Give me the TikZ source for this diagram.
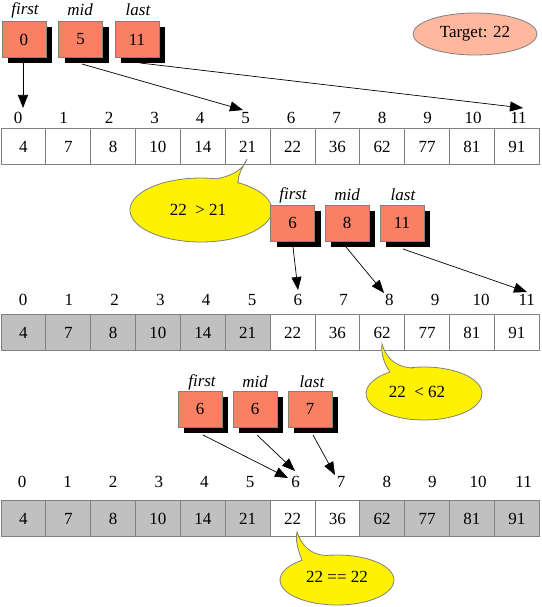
\documentclass[tikz,border=0pt]{standalone}
\usepackage{fontspec}
\setmainfont{Liberation Serif}
\usetikzlibrary{arrows.meta,shadows,shapes.geometric}
\definecolor{boxfill}{RGB}{250,128,100}
\definecolor{edgegray}{RGB}{128,128,128}
\definecolor{cellgray}{RGB}{192,192,192}
\definecolor{targetfill}{RGB}{255,184,158}
\begin{document}
\begin{tikzpicture}[x=1pt,y=-1pt, font=\fontsize{17}{20}\selectfont,
 ptr/.style={draw=edgegray, fill=boxfill, minimum width=44pt, minimum height=36pt, inner sep=0pt, line width=0.8pt,
   drop shadow={shadow xshift=6pt, shadow yshift=-6pt, opacity=1, fill=black}},
 ptrlbl/.style={font=\fontsize{17}{20}\selectfont\itshape, inner sep=0pt},
 cell/.style={draw=edgegray, fill=white, minimum width=44.85pt, minimum height=36pt, inner sep=0pt, line width=0.8pt},
 gcell/.style={cell, fill=cellgray},
 idx/.style={inner sep=0pt},
 arr/.style={-{Triangle[length=13pt,width=10pt]}, line width=0.7pt},
 bubble/.style={draw=edgegray, fill=yellow, line width=0.8pt}]
\useasboundingbox (0,0) rectangle (541,607);

% target
\node[ellipse, draw=edgegray, fill=targetfill, minimum width=124pt, minimum height=42pt, inner sep=0pt, line width=0.8pt] (target) at (475,34) {Target: 22};

% ---------- row 1 ----------
\foreach \v [count=\i from 0] in {4,7,8,10,14,21,22,36,62,77,81,91} {
  \node[cell] (r1c\i) at ({23.4+44.85*\i},146.5) {\v};
  \node[idx] (r1i\i) at ({18+45.5*\i},118) {\i};
}
% bubble 1
\path[bubble] (201,210) ++(-58.6:71 and 32) arc[start angle=-58.6, end angle=283, x radius=71, y radius=32]
  .. controls (235,175) and (244,168) .. (247,159)
  .. controls (242,168) and (238,175) .. (238,182.7) -- cycle;
\node (b1) at (198,210) {22\ \ > 21};

\node[ptr] (f1) at (24,39.5) {0};
\node[ptr] (m1) at (80.5,39.5) {5};
\node[ptr] (l1) at (137,39.5) {11};
\node[ptrlbl] (f1t) at (25,10) {first};
\node[ptrlbl] (m1t) at (80,10) {mid};
\node[ptrlbl] (l1t) at (138,10) {last};

\coordinate (f1s) at (23,63);  \coordinate (f1e) at (23,108);
\coordinate (m1s) at (82,64);  \coordinate (m1e) at (243,110);
\coordinate (l1s) at (140,63); \coordinate (l1e) at (523,108);
\draw[arr] (f1s) -- (f1e);
\draw[arr] (m1s) -- (m1e);
\draw[arr] (l1s) -- (l1e);

% ---------- row 2 ----------
\foreach \v/\st [count=\i from 0] in {4/gcell,7/gcell,8/gcell,10/gcell,14/gcell,21/gcell,22/cell,36/cell,62/cell,77/cell,81/cell,91/cell} {
  \node[\st] (r2c\i) at ({23.4+44.85*\i},332.5) {\v};
  \node[idx] (r2i\i) at ({23+45.8*\i},300) {\i};
}
% bubble 2
\path[bubble] (424,393.5) ++(-104:58 and 26.5) arc[start angle=-104, end angle=234.1, x radius=58, y radius=26.5]
  .. controls (383,362) and (381,352) .. (382,344)
  .. controls (386,358) and (395,366) .. (410,367.8) -- cycle;
\node (b2) at (417,392) {22\ \ < 62};

\node[ptr] (f2) at (292.5,223) {6};
\node[ptr] (m2) at (347,223) {8};
\node[ptr] (l2) at (402,223) {11};
\node[ptrlbl] (f2t) at (293,195) {first};
\node[ptrlbl] (m2t) at (347,195) {mid};
\node[ptrlbl] (l2t) at (403,195) {last};

\coordinate (f2s) at (293,247); \coordinate (f2e) at (298,290);
\coordinate (m2s) at (346,247); \coordinate (m2e) at (384,293);
\coordinate (l2s) at (403,249); \coordinate (l2e) at (527,292);
\draw[arr] (f2s) -- (f2e);
\draw[arr] (m2s) -- (m2e);
\draw[arr] (l2s) -- (l2e);

% ---------- row 3 ----------
\foreach \v/\st [count=\i from 0] in {4/gcell,7/gcell,8/gcell,10/gcell,14/gcell,21/gcell,22/cell,36/cell,62/gcell,77/gcell,81/gcell,91/gcell} {
  \node[\st] (r3c\i) at ({23.4+44.85*\i},518.5) {\v};
  \node[idx] (r3i\i) at ({22+45.6*\i},482) {\i};
}
% bubble 3
\path[bubble] (337,580) ++(-102:57 and 25) arc[start angle=-102, end angle=232.1, x radius=57, y radius=25]
  .. controls (298,550) and (295,540) .. (297,532)
  .. controls (302,546) and (310,554) .. (325.1,555.5) -- cycle;
\node (b3) at (337,577) {22 == 22};

\node[ptr] (f3) at (200,409) {6};
\node[ptr] (m3) at (255,409) {6};
\node[ptr] (l3) at (310,409) {7};
\node[ptrlbl] (f3t) at (202,382) {first};
\node[ptrlbl] (m3t) at (255,382) {mid};
\node[ptrlbl] (l3t) at (312,382) {last};

\coordinate (f3s) at (203,435); \coordinate (f3e) at (288,478);
\coordinate (m3s) at (257,435); \coordinate (m3e) at (295,471);
\coordinate (l3s) at (313,435); \coordinate (l3e) at (335,475);
\draw[arr] (f3s) -- (f3e);
\draw[arr] (m3s) -- (m3e);
\draw[arr] (l3s) -- (l3e);
\end{tikzpicture}
\end{document}
